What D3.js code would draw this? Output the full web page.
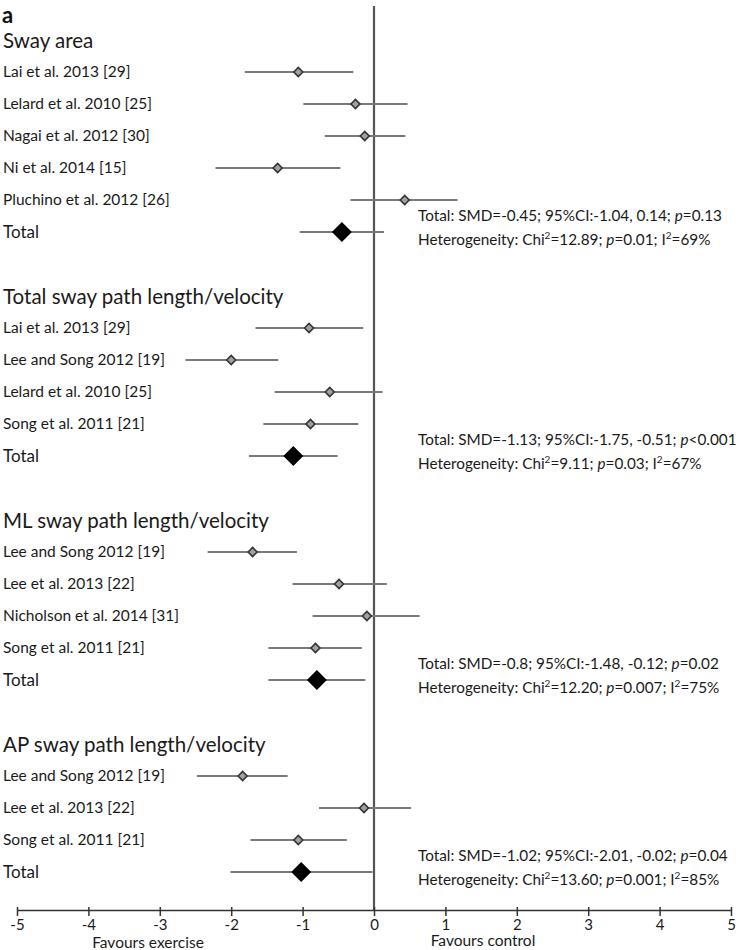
<!DOCTYPE html>
<html><head><meta charset="utf-8">
<script src="https://cdn.jsdelivr.net/npm/d3@7"></script>
<style>body{margin:0;background:#fff}svg{display:block}text{font-family:Lato,"Open Sans",sans-serif}</style>
</head><body><div id="chart"></div>
<script>
const sectionTitles = ["Sway area","Total sway path length/velocity","ML sway path length/velocity","AP sway path length/velocity"];
const sectionStart = [0, 8, 15, 22];
const studyLabels = [
  ["Lai et al. 2013 [29]","Lelard et al. 2010 [25]","Nagai et al. 2012 [30]","Ni et al. 2014 [15]","Pluchino et al. 2012 [26]"],
  ["Lai et al. 2013 [29]","Lee and Song 2012 [19]","Lelard et al. 2010 [25]","Song et al. 2011 [21]"],
  ["Lee and Song 2012 [19]","Lee et al. 2013 [22]","Nicholson et al. 2014 [31]","Song et al. 2011 [21]"],
  ["Lee and Song 2012 [19]","Lee et al. 2013 [22]","Song et al. 2011 [21]"]
];
const studySMD = [[-1.06,-0.26,-0.13,-1.35,0.43],[-0.91,-2.0,-0.62,-0.89],[-1.70,-0.49,-0.10,-0.82],[-1.84,-0.14,-1.06]];
const studyLow = [[-1.81,-0.99,-0.69,-2.22,-0.33],[-1.66,-2.64,-1.39,-1.55],[-2.33,-1.14,-0.86,-1.48],[-2.48,-0.77,-1.73]];
const studyHigh = [[-0.29,0.47,0.44,-0.47,1.17],[-0.15,-1.34,0.12,-0.22],[-1.08,0.18,0.64,-0.17],[-1.21,0.52,-0.38]];
const totalSMD = [-0.45,-1.13,-0.8,-1.02];
const totalLow = [-1.04,-1.75,-1.48,-2.01];
const totalHigh = [0.14,-0.51,-0.12,-0.02];
const totalText = [
  ["-0.45","-1.04, 0.14","=0.13","12.89","=0.01","69%"],
  ["-1.13","-1.75, -0.51","<0.001","9.11","=0.03","67%"],
  ["-0.8","-1.48, -0.12","=0.02","12.20","=0.007","75%"],
  ["-1.02","-2.01, -0.02","=0.04","13.60","=0.001","85%"]
];
const xTicks = [-5,-4,-3,-2,-1,0,1,2,3,4,5];

const W=742,H=950;
const svg=d3.select("#chart").append("svg").attr("width",W).attr("height",H);
const x=d3.scaleLinear().domain([-5,5]).range([17,731]);
const y=d3.scaleLinear().domain([0,25]).range([72,872]);
const axisY=910;
const gray="#7a7a7a";
const ink="#1a1a1a";

svg.append("line").attr("x1",x(0)).attr("x2",x(0)).attr("y1",6).attr("y2",axisY)
  .attr("stroke","#555").attr("stroke-width",2.2);

svg.append("text").attr("x",2).attr("y",23).attr("font-size",22).attr("font-weight","bold").attr("fill","#111").text("a");

const diamond=(cx,cy,r)=>`M${cx-r},${cy}L${cx},${cy-r}L${cx+r},${cy}L${cx},${cy+r}Z`;
const annSize=15.3, supSize=10, supShift=6;

sectionTitles.forEach((t,s)=>{
  const i0=sectionStart[s];
  svg.append("text").attr("x",3).attr("y",y(i0)-31).attr("dy","0.35em")
    .attr("font-size",20.5).attr("fill",ink).text(t);
  studyLabels[s].forEach((lab,j)=>{
    const yy=y(i0+j);
    svg.append("text").attr("x",3).attr("y",yy).attr("dy","0.35em").attr("font-size",15.5).attr("fill",ink).text(lab);
    svg.append("line").attr("x1",x(studyLow[s][j])).attr("x2",x(studyHigh[s][j])).attr("y1",yy).attr("y2",yy)
      .attr("stroke",gray).attr("stroke-width",2);
    svg.append("path").attr("d",diamond(x(studySMD[s][j]),yy,4.5)).attr("fill","#a0a0a0").attr("stroke","#333").attr("stroke-width",1.6);
  });
  const ty=y(i0+studyLabels[s].length);
  svg.append("text").attr("x",3).attr("y",ty).attr("dy","0.35em").attr("font-size",17).attr("fill",ink).text("Total");
  svg.append("line").attr("x1",x(totalLow[s])).attr("x2",x(totalHigh[s])).attr("y1",ty).attr("y2",ty)
    .attr("stroke",gray).attr("stroke-width",2);
  svg.append("path").attr("d",diamond(x(totalSMD[s]),ty,10)).attr("fill","#000");
  const d=totalText[s];
  const t1=svg.append("text").attr("x",418).attr("y",ty-17+5.5).attr("font-size",annSize).attr("fill",ink);
  t1.append("tspan").text(`Total: SMD=${d[0]}; 95%CI:${d[1]}; `);
  t1.append("tspan").attr("font-style","italic").text("p");
  t1.append("tspan").text(d[2]);
  const t2=svg.append("text").attr("x",418).attr("y",ty+7+5.5).attr("font-size",annSize).attr("fill",ink);
  t2.append("tspan").text("Heterogeneity: Chi");
  t2.append("tspan").attr("font-size",supSize).attr("dy",-supShift).text("2");
  t2.append("tspan").attr("dy",supShift).text(`=${d[3]}; `);
  t2.append("tspan").attr("font-style","italic").text("p");
  t2.append("tspan").text(`${d[4]}; I`);
  t2.append("tspan").attr("font-size",supSize).attr("dy",-supShift).text("2");
  t2.append("tspan").attr("dy",supShift).text(`=${d[5]}`);
});

const ax=svg.append("g").attr("transform",`translate(0,${axisY})`)
  .call(d3.axisBottom(x).tickValues(xTicks).tickSize(6).tickSizeOuter(0).tickFormat(d3.format("d")));
ax.select(".domain").attr("stroke","#333").attr("stroke-width",1.5);
ax.selectAll(".tick line").attr("stroke","#333").attr("stroke-width",1.5).attr("y1",-3).attr("y2",6);
ax.selectAll(".tick text").attr("font-size",15).attr("fill",ink).attr("font-family","Lato, sans-serif").attr("y",9);
ax.selectAll(".tick text").text(d=>d<0?"-"+Math.abs(d):d);

svg.append("text").attr("x",148).attr("y",948).attr("text-anchor","middle").attr("font-size",15.5).attr("fill",ink).text("Favours exercise");
svg.append("text").attr("x",483).attr("y",946).attr("text-anchor","middle").attr("font-size",15.5).attr("fill",ink).text("Favours control");
</script></body></html>
